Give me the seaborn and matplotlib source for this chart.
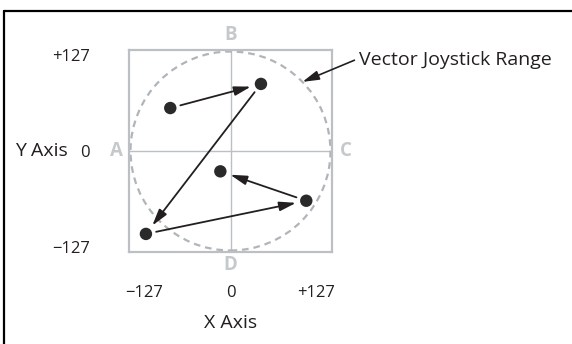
import numpy as np
import pandas as pd
import matplotlib
matplotlib.use('Agg')
import matplotlib.pyplot as plt
from matplotlib.patches import Ellipse
from matplotlib.lines import Line2D
import seaborn as sns

# joystick path, in the order the arrows go
path_x = [-89, 45, -125, 112, -15]
path_y = [57, 89, -110, -66, -27]
tick_vals = [-127, 0, 127]
tick_labels = ['\u2212127', '0', '+127']
corner_letters = ['A', 'B', 'C', 'D']
range_label = 'Vector Joystick Range'

sns.set_style('white')
plt.rcParams['font.family'] = ['Open Sans', 'DejaVu Sans']

ink = '#231f20'
light = '#bcc0c5'

fig = plt.figure(figsize=(5.72, 3.44), dpi=100)
ax = fig.add_axes([129/572, 92/344, 203/572, 202/344])
ax.set_xlim(-150, 150)
ax.set_ylim(-134, 134)

# frame + crosshair + dashed range circle
for s in ax.spines.values():
    s.set_color(light)
    s.set_linewidth(1.6)
ax.axhline(0, color=light, lw=1.0, zorder=1)
ax.axvline(0, color=light, lw=1.0, zorder=1)
ax.add_patch(Ellipse((0.5, 0.5), 0.985, 0.985, transform=ax.transAxes, fill=False,
                     ec='#b0b5ba', lw=1.6, ls=(0, (3, 2.2)), zorder=2))

df = pd.DataFrame({'x': path_x, 'y': path_y})
sns.scatterplot(data=df, x='x', y='y', s=80, color='#2b2a2a', edgecolor='none',
                zorder=5, ax=ax, legend=False)

for i in range(len(df) - 1):
    ax.annotate('', xy=(df.x[i+1], df.y[i+1]), xytext=(df.x[i], df.y[i]),
                arrowprops=dict(arrowstyle='-|>,head_length=1.0,head_width=0.28',
                                color=ink, lw=1.3, shrinkA=7.5, shrinkB=7.5,
                                mutation_scale=10), zorder=4)

# ticks
ax.set_xticks(tick_vals, tick_labels)
ax.set_yticks(tick_vals, tick_labels)
ax.tick_params(axis='x', length=0, pad=24, labelsize=12, labelcolor=ink)
ax.tick_params(axis='y', length=0, pad=28, labelsize=12, labelcolor=ink)
ax.set_xlabel('X Axis', fontsize=14, color=ink)
ax.xaxis.set_label_coords(0.5, -0.305)
ax.set_ylabel('Y Axis', fontsize=14, color=ink, rotation=0, ha='center', va='center')
ax.yaxis.set_label_coords(-0.43, 0.5)

# A B C D around the square
pos = [(-0.06, 0.5), (0.5, 1.075), (1.066, 0.5), (0.5, -0.066)]
for lab, (px, py) in zip(corner_letters, pos):
    ax.text(px, py, lab, transform=ax.transAxes, ha='center', va='center',
            fontsize=13.5, fontweight='bold', color='#c6c9cc')

ang = np.deg2rad(44)
ax.annotate(range_label, xy=(0.5 + 0.4925*np.cos(ang), 0.5 + 0.4925*np.sin(ang)),
            xycoords='axes fraction', xytext=(1.133, 0.95), textcoords='axes fraction',
            ha='left', va='center', fontsize=14, color=ink,
            arrowprops=dict(arrowstyle='-|>,head_length=1.0,head_width=0.28', color=ink,
                            lw=1.2, shrinkA=1, shrinkB=0, mutation_scale=10,
                            relpos=(0, 0.6)))

# page border, top and left only
fig.add_artist(Line2D([3.5/572, 1.0], [1 - 11/344, 1 - 11/344], color='black', lw=1.6,
                      transform=fig.transFigure))
fig.add_artist(Line2D([3.5/572, 3.5/572], [0, 1 - 11/344], color='black', lw=1.6,
                      transform=fig.transFigure))

fig.savefig('out.png', dpi=100)
